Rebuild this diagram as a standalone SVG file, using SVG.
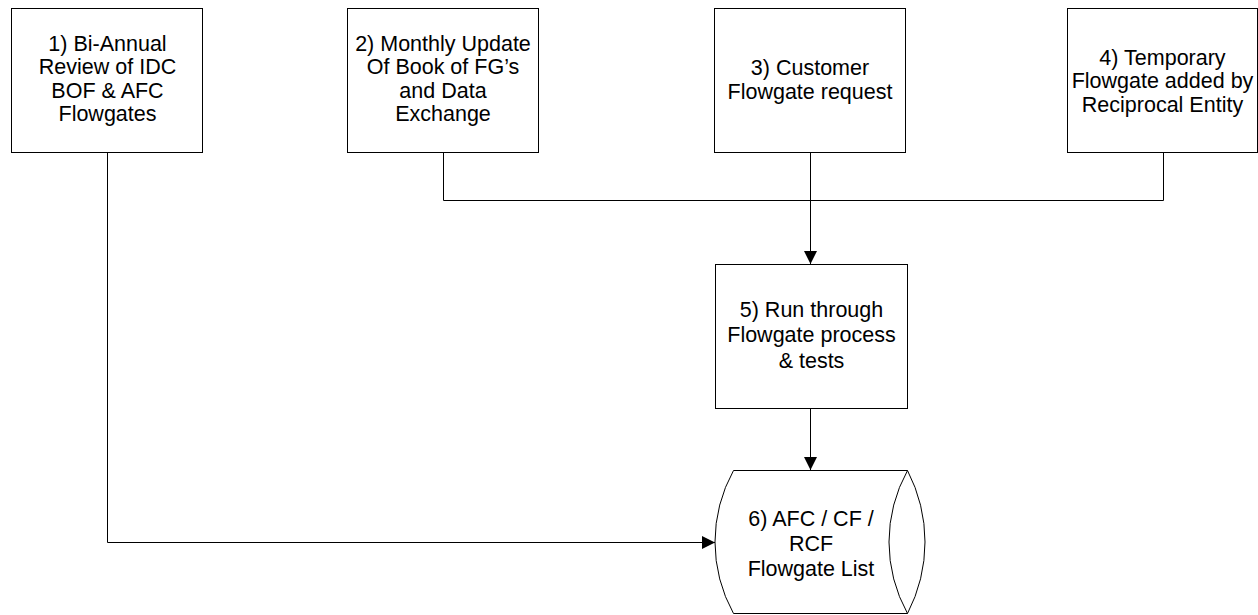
<svg xmlns="http://www.w3.org/2000/svg" width="1258" height="615" viewBox="0 0 1258 615">
  <style>
    .box { fill: #ffffff; stroke: #000000; stroke-width: 1; }
    .conn { fill: none; stroke: #000000; stroke-width: 1; }
    .lbl { font-family: "Liberation Sans", Arial, sans-serif; font-size: 21.5px; fill: #000000; text-anchor: middle; }
  </style>
  <defs>
    <marker id="arrow" markerUnits="userSpaceOnUse" markerWidth="13" markerHeight="13" refX="13" refY="6.5" orient="auto">
      <path d="M0,0 L13,6.5 L0,13 Z" fill="#000000"/>
    </marker>
  </defs>
  <rect width="1258" height="615" fill="#ffffff"/>

  <g id="connectors">
    <path class="conn" d="M107.5,152.5 V542.5 H715" marker-end="url(#arrow)"/>
    <path class="conn" d="M443.5,152.5 V200.5 H1163.5 V152.5"/>
    <path class="conn" d="M810.5,152.5 V264" marker-end="url(#arrow)"/>
    <path class="conn" d="M810.5,408.5 V470" marker-end="url(#arrow)"/>
  </g>

  <g id="node1">
    <rect class="box" x="11.5" y="8.5" width="191" height="144"/>
    <text class="lbl" x="107.5" y="51">1) Bi-Annual</text>
    <text class="lbl" x="107.5" y="74.3">Review of IDC</text>
    <text class="lbl" x="107.5" y="97.6">BOF &amp; AFC</text>
    <text class="lbl" x="107.5" y="121">Flowgates</text>
  </g>

  <g id="node2">
    <rect class="box" x="347.5" y="8.5" width="191" height="144"/>
    <text class="lbl" x="443" y="51">2) Monthly Update</text>
    <text class="lbl" x="443" y="74.3">Of Book of FG’s</text>
    <text class="lbl" x="443" y="97.6">and Data</text>
    <text class="lbl" x="443" y="121">Exchange</text>
  </g>

  <g id="node3">
    <rect class="box" x="714.5" y="8.5" width="191" height="144"/>
    <text class="lbl" x="810" y="75">3) Customer</text>
    <text class="lbl" x="810" y="99">Flowgate request</text>
  </g>

  <g id="node4">
    <rect class="box" x="1067.5" y="8.5" width="190" height="144"/>
    <text class="lbl" x="1162.5" y="65">4) Temporary</text>
    <text class="lbl" x="1162.5" y="88.3">Flowgate added by</text>
    <text class="lbl" x="1162.5" y="111.6">Reciprocal Entity</text>
  </g>

  <g id="node5">
    <rect class="box" x="715.5" y="264.5" width="192" height="144"/>
    <text class="lbl" x="811.5" y="316.7">5) Run through</text>
    <text class="lbl" x="811.5" y="342.3">Flowgate process</text>
    <text class="lbl" x="811.5" y="368">&amp; tests</text>
  </g>

  <g id="node6">
    <path class="box" d="M733.5,470.5 H907.5 A154.8,154.8 0 0 1 907.5,613.5 H733.5 A147.4,147.4 0 0 1 733.5,470.5 Z"/>
    <path class="conn" d="M907.5,470.5 A147.4,147.4 0 0 0 907.5,613.5"/>
    <text class="lbl" x="811" y="526">6) AFC / CF /</text>
    <text class="lbl" x="811" y="550.5">RCF</text>
    <text class="lbl" x="811" y="575.5">Flowgate List</text>
  </g>
</svg>
